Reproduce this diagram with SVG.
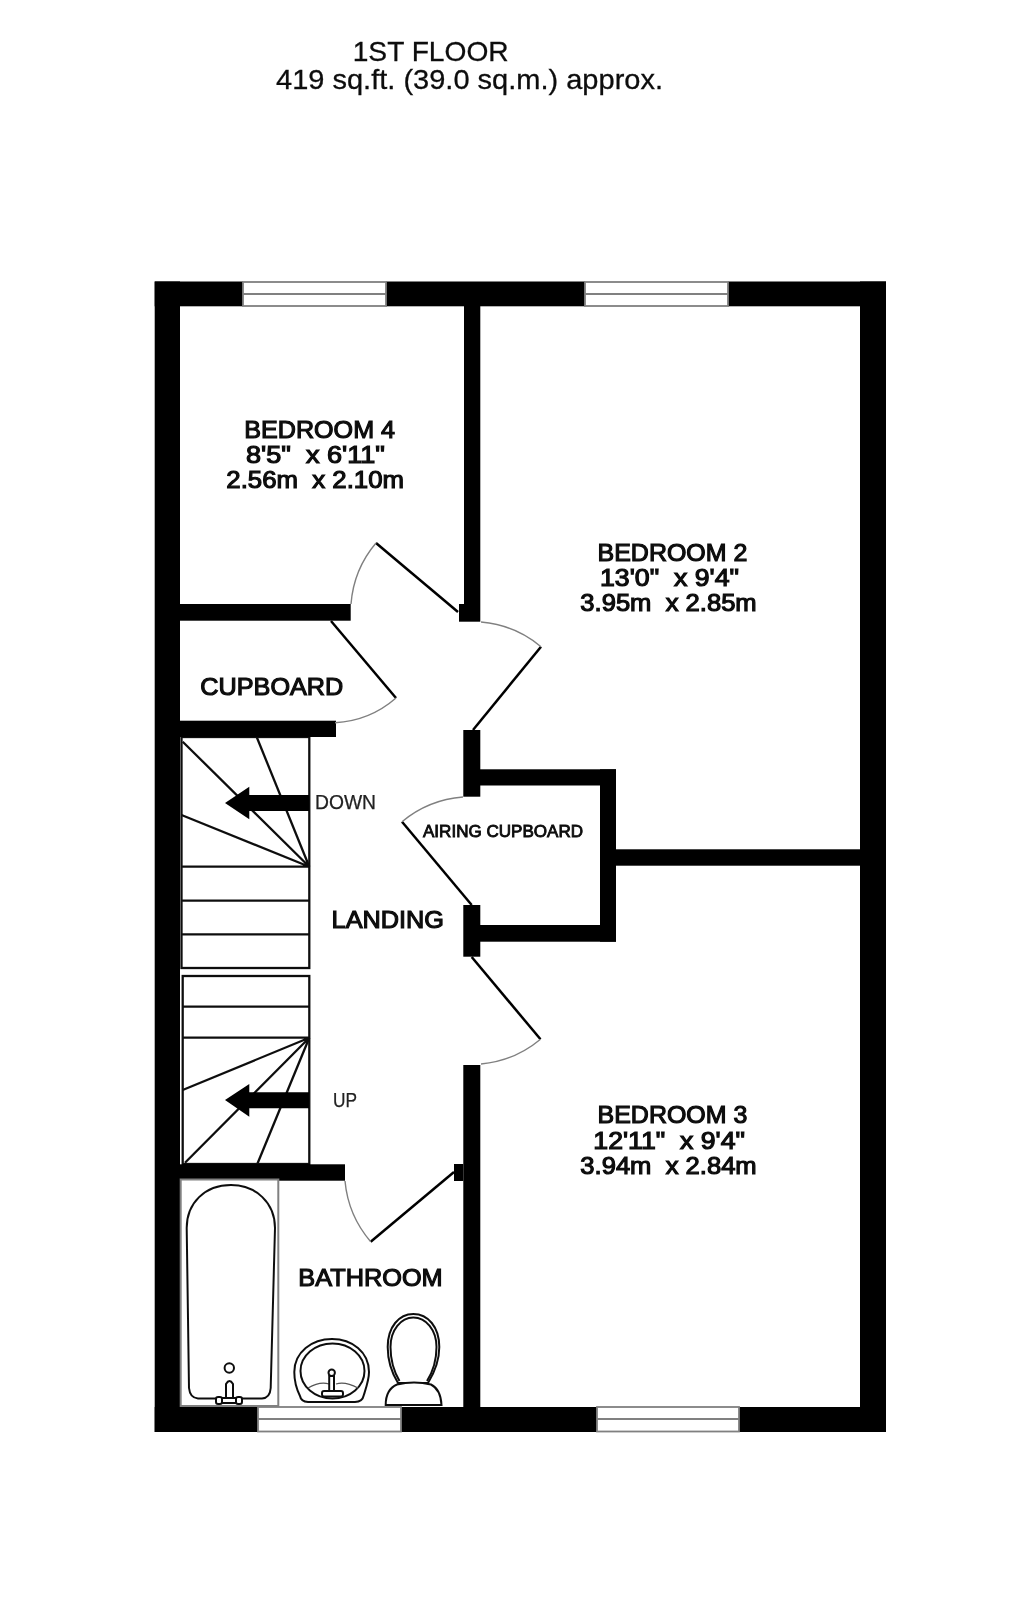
<svg xmlns="http://www.w3.org/2000/svg" width="1024" height="1605" viewBox="0 0 1024 1605">
<style>
text{font-family:"Liberation Sans",Arial,sans-serif;fill:#0a0a0a;white-space:pre}
.t{font-size:28.5px;stroke:#111;stroke-width:.3px}
.l{font-size:24.8px;stroke:#0a0a0a;stroke-width:1.15px}
.s{font-size:17px;stroke:#0a0a0a;stroke-width:.85px}
.r{font-size:19.5px;fill:#222;stroke:#222;stroke-width:.25px}
.w{fill:#000}
.leaf{fill:none;stroke:#000;stroke-width:2.5}
.arc{fill:none;stroke:#808080;stroke-width:1.4}
.st{fill:none;stroke:#111;stroke-width:2.3}
.win{fill:#fff;stroke:#808080;stroke-width:1.8}
.fx{fill:#fff;stroke:#111;stroke-width:2}
</style>
<defs><filter id="soft" x="0" y="0" width="1" height="1"><feGaussianBlur stdDeviation="0.4"/></filter></defs>
<rect width="1024" height="1605" fill="#fff"/>
<g filter="url(#soft)">
<rect width="1024" height="1605" fill="#fff"/>
<g id="title">
<text class="t" x="352.7" y="60.7" textLength="156" lengthAdjust="spacingAndGlyphs">1ST FLOOR</text>
<text class="t" x="276" y="89.3" textLength="387" lengthAdjust="spacingAndGlyphs">419 sq.ft. (39.0 sq.m.) approx.</text>
</g>
<g id="stairs">
<rect class="st" x="181.5" y="737" width="127.8" height="231"/>
<path class="st" d="M181.5 866.7H309.3M181.5 900.7H309.3M181.5 934.3H309.3M309.3 866.7L182.7 741.7M309.3 866.7L256.7 737M309.3 866.7L181.5 815"/>
<rect class="st" x="182.7" y="976" width="126.6" height="188"/>
<path class="st" d="M182.7 1006.7H309.3M182.7 1037.7H309.3M309.3 1037.7L182.7 1090M309.3 1037.7L185 1162.7M309.3 1037.7L257.3 1164"/>
<path class="w" d="M309.3 795V811H249.3V819.3L225 803L249.3 786.7V795Z"/>
<path class="w" d="M309.3 1092.3V1108.3H249.3V1116.7L225 1100L249.3 1084V1092.3Z"/>
</g>
<g id="walls" class="w">
<rect x="154.7" y="281.5" width="88.3" height="24.8"/>
<rect x="386" y="281.5" width="199" height="24.8"/>
<rect x="728" y="281.5" width="158" height="24.8"/>
<rect x="860" y="281.5" width="26" height="1150.5"/>
<rect x="154.7" y="281.5" width="25.3" height="1150.5"/>
<rect x="154.7" y="1407" width="103.3" height="25"/>
<rect x="401" y="1407" width="196" height="25"/>
<rect x="739" y="1407" width="147" height="25"/>
<rect x="464" y="306" width="16.3" height="315.7"/>
<rect x="459" y="604" width="5" height="17.7"/>
<rect x="180" y="604" width="170.7" height="16.7"/>
<rect x="180" y="720.7" width="156" height="16.3"/>
<rect x="463.3" y="730" width="17" height="66.7"/>
<rect x="480" y="769.3" width="136" height="16.2"/>
<rect x="600" y="769.3" width="16" height="172.4"/>
<rect x="480" y="925" width="136" height="16.7"/>
<rect x="616" y="849.3" width="245" height="16.4"/>
<rect x="463.3" y="905" width="17" height="51.7"/>
<rect x="463.3" y="1065" width="17" height="342"/>
<rect x="180" y="1164.3" width="165" height="16.4"/>
<rect x="454" y="1164" width="9.3" height="17"/>
</g>
<g id="windows">
<g id="window-bedroom4"><rect class="win" x="243" y="282" width="143" height="24"/><path class="win" d="M243 294H386"/></g>
<g id="window-bedroom2"><rect class="win" x="585" y="282" width="143" height="24"/><path class="win" d="M585 294H728"/></g>
<g id="window-bathroom"><rect class="win" x="258" y="1407" width="143" height="24.5"/><path class="win" d="M258 1419H401"/></g>
<g id="window-bedroom3"><rect class="win" x="597" y="1407" width="142" height="24.5"/><path class="win" d="M597 1419H739"/></g>
</g>
<g id="doors">
<g id="door-bedroom4"><path class="leaf" d="M458 612L376 543"/><path class="arc" d="M376 543A107 107 0 0 0 351 604"/></g>
<g id="door-cupboard"><path class="leaf" d="M331 621L396 698"/><path class="arc" d="M396 698A101 101 0 0 1 335 722.7"/></g>
<g id="door-bedroom2"><path class="leaf" d="M473 730L541 646.7"/><path class="arc" d="M541 646.7A108 108 0 0 0 481 622"/></g>
<g id="door-airing"><path class="leaf" d="M471.7 905L402 821.7"/><path class="arc" d="M402 821.7A108.6 108.6 0 0 1 463 797"/></g>
<g id="door-bedroom3"><path class="leaf" d="M471.7 957L540.5 1039.3"/><path class="arc" d="M540.5 1039.3A107.6 107.6 0 0 1 481 1064"/></g>
<g id="door-bathroom"><path class="leaf" d="M454 1172L370.7 1241.7"/><path class="arc" d="M370.7 1241.7A108.6 108.6 0 0 1 345 1181"/></g>
</g>
<g id="bath">
<rect x="180.7" y="1179.5" width="97.6" height="226.5" fill="#fff" stroke="#808080" stroke-width="2"/>
<path class="fx" d="M189 1388L186.7 1228C186.7 1203 205 1185 231 1185C256 1185 275 1203 275 1228L270.7 1388Q270 1398 262 1398.5L198 1398.5Q190 1398 189 1388Z"/>
<circle class="fx" cx="229.3" cy="1368" r="4.7"/>
<path class="fx" d="M226 1400V1384Q229.5 1378 233 1384V1400"/>
<rect class="fx" x="216" y="1397" width="6" height="7" rx="2"/>
<rect class="fx" x="222" y="1398" width="14" height="5"/>
<rect class="fx" x="236" y="1397" width="6" height="7" rx="2"/>
</g>
<g id="sink">
<path class="fx" d="M300 1396C296 1388 294.3 1380 294.3 1372C294.3 1352 312 1339 332 1339C352 1339 369 1352 369 1372C369 1380 366 1388 363.5 1396Q362.5 1401.5 355 1402L308 1402Q301 1401.5 300 1396Z"/>
<ellipse class="fx" cx="332.5" cy="1371" rx="32" ry="27.5"/>
<path fill="none" stroke="#555" stroke-width="1.3" d="M308 1388Q320 1381 329 1384M336 1384Q345 1381 358 1388"/>
<circle class="fx" cx="331.7" cy="1372.7" r="3.2"/>
<rect class="fx" x="329.2" y="1376" width="4.8" height="16"/>
<rect class="fx" x="322" y="1391" width="21" height="5.5" rx="2"/>
</g>
<g id="toilet">
<path class="fx" d="M398 1383C390 1370 387.7 1360 387.7 1347C387.7 1327 399 1314 413.3 1314C428 1314 439.3 1327 439.3 1347C439.3 1360 436 1370 428 1383Z"/>
<path class="fx" d="M399.5 1381C393 1370 390.5 1359 390.5 1347C390.5 1330 401 1317.5 413.3 1317.5C426 1317.5 436.5 1330 436.5 1347C436.5 1359 434 1370 427 1381"/>
<path class="fx" d="M385.7 1405C385.7 1395 389 1388 397 1384.5C408 1382 420 1382 431 1384.5C438 1388 441 1395 441.5 1405Z"/>
</g>
<g id="labels">
<g id="bedroom4"><text class="l" x="244.3" y="438" textLength="150.7" lengthAdjust="spacingAndGlyphs">BEDROOM 4</text>
<text class="l" x="246" y="463.3" textLength="139" lengthAdjust="spacingAndGlyphs">8'5"  x 6'11"</text>
<text class="l" x="226.3" y="488" textLength="177.7" lengthAdjust="spacingAndGlyphs">2.56m  x 2.10m</text></g>
<g id="bedroom2"><text class="l" x="597.6" y="560.7" textLength="149.7" lengthAdjust="spacingAndGlyphs">BEDROOM 2</text>
<text class="l" x="600" y="586" textLength="139" lengthAdjust="spacingAndGlyphs">13'0"  x 9'4"</text>
<text class="l" x="580.3" y="611.3" textLength="176.4" lengthAdjust="spacingAndGlyphs">3.95m  x 2.85m</text></g>
<g id="bedroom3"><text class="l" x="597.6" y="1123.3" textLength="149.7" lengthAdjust="spacingAndGlyphs">BEDROOM 3</text>
<text class="l" x="593.3" y="1148.7" textLength="151.7" lengthAdjust="spacingAndGlyphs">12'11"  x 9'4"</text>
<text class="l" x="580.3" y="1174" textLength="176.4" lengthAdjust="spacingAndGlyphs">3.94m  x 2.84m</text></g>
<g id="cupboard"><text class="l" x="200.3" y="695" textLength="143" lengthAdjust="spacingAndGlyphs">CUPBOARD</text></g>
<g id="airing-cupboard"><text class="s" x="423" y="836.7" textLength="160" lengthAdjust="spacingAndGlyphs">AIRING CUPBOARD</text></g>
<g id="landing"><text class="l" x="331.6" y="927.7" textLength="112.4" lengthAdjust="spacingAndGlyphs">LANDING</text></g>
<g id="bathroom"><text class="l" x="298.3" y="1286" textLength="144.4" lengthAdjust="spacingAndGlyphs">BATHROOM</text></g>
<text class="r" x="315" y="809.3" textLength="61" lengthAdjust="spacingAndGlyphs">DOWN</text>
<text class="r" x="333" y="1106.7" textLength="24" lengthAdjust="spacingAndGlyphs">UP</text>
</g>
</g>
</svg>
